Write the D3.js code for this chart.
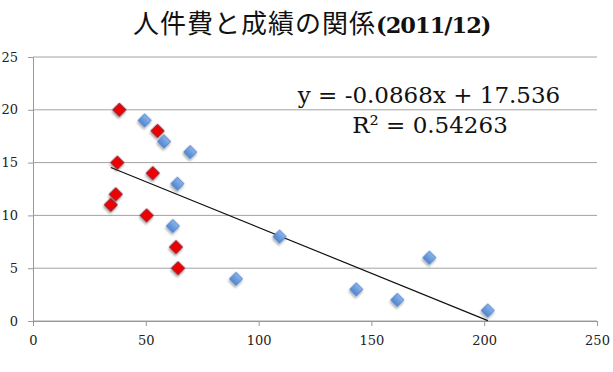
<!DOCTYPE html>
<html>
<head>
<meta charset="utf-8">
<script src="https://cdn.jsdelivr.net/npm/d3@7"></script>
<style>
  body { margin: 0; background: #fff; }
  text { font-family: "DejaVu Serif", serif; }
</style>
</head>
<body>
<div class="graph"></div>
<script>
let w = 613;
let h = 372;

// 人件費 (x) と 成績 (y)
let redX = [38.3, 55.2, 37.4, 53.1, 36.7, 34.5, 50.4, 63.4, 64.3];
let redY = [20, 18, 15, 14, 12, 11, 10, 7, 5];
let blueX = [49.5, 58.1, 69.7, 64, 62, 90, 109.3, 143.3, 161.5, 175.7, 201.6];
let blueY = [19, 17, 16, 13, 9, 4, 8, 3, 2, 6, 1];
let xTicks = [0, 50, 100, 150, 200, 250];
let yTicks = [0, 5, 10, 15, 20, 25];
let slope = -0.0868;
let intercept = 17.536;
let eqLabel = "y = -0.0868x + 17.536";
let r2Label = "R² = 0.54263";
let titleJa = "人件費と成績の関係";
let titleYear = "(2011/12)";

let svg = d3
  .select(".graph")
  .append("svg")
  .attr("width", w)
  .attr("height", h);

let xScale = d3.scaleLinear().domain([0, 250]).range([33, 597]);
let yScale = d3.scaleLinear().domain([0, 25]).range([321, 57]);

let defs = svg.append("defs");
let blueGrad = defs
  .append("linearGradient")
  .attr("id", "blueGrad")
  .attr("x1", "0").attr("y1", "0").attr("x2", "0").attr("y2", "1");
blueGrad.append("stop").attr("offset", "0%").attr("stop-color", "#8cb4ea");
blueGrad.append("stop").attr("offset", "100%").attr("stop-color", "#4f86d2");
let shadow = defs.append("filter").attr("id", "shadow").attr("x", "-50%").attr("y", "-50%").attr("width", "200%").attr("height", "200%");
shadow.append("feDropShadow").attr("dx", 1).attr("dy", 2).attr("stdDeviation", 1.2).attr("flood-color", "#000").attr("flood-opacity", 0.35);

// grid
svg
  .append("g")
  .selectAll("line")
  .data(yTicks)
  .enter()
  .append("line")
  .attr("x1", xScale(0))
  .attr("x2", xScale(250))
  .attr("y1", (d) => yScale(d))
  .attr("y2", (d) => yScale(d))
  .attr("stroke", "#a3a3a3")
  .attr("stroke-width", 1);

let xAxis = d3.axisBottom(xScale).tickValues(xTicks).tickSize(5).tickPadding(10);
let yAxis = d3.axisLeft(yScale).tickValues(yTicks).tickSize(5).tickPadding(10);

let gx = svg
  .append("g")
  .attr("transform", "translate(0," + yScale(0) + ")")
  .call(xAxis);
let gy = svg
  .append("g")
  .attr("transform", "translate(" + xScale(0) + ",0)")
  .call(yAxis);

[gx, gy].forEach(function (g) {
  g.select(".domain").attr("stroke", "#999");
  g.selectAll(".tick line").attr("stroke", "#999");
  g.selectAll(".tick text")
    .attr("fill", "#222")
    .style("font-family", '"DejaVu Serif", serif')
    .style("font-size", "13px");
});

// trend line
let allX = redX.concat(blueX);
let tx = [d3.min(allX), d3.max(allX)];
svg
  .append("line")
  .attr("x1", xScale(tx[0]))
  .attr("y1", yScale(slope * tx[0] + intercept))
  .attr("x2", xScale(tx[1]))
  .attr("y2", yScale(slope * tx[1] + intercept))
  .attr("stroke", "#111")
  .attr("stroke-width", 1.2);

let diamond = d3.symbol().type(d3.symbolSquare).size(88);

svg
  .append("g")
  .selectAll("path")
  .data(blueX)
  .enter()
  .append("path")
  .attr("d", diamond)
  .attr("transform", (d, i) => "translate(" + xScale(d) + "," + yScale(blueY[i]) + ") rotate(45)")
  .attr("fill", "url(#blueGrad)")
  .attr("stroke", "#4d7fc4")
  .attr("stroke-width", 0.8)
  .attr("filter", "url(#shadow)");

svg
  .append("g")
  .selectAll("path")
  .data(redX)
  .enter()
  .append("path")
  .attr("d", diamond)
  .attr("transform", (d, i) => "translate(" + xScale(d) + "," + yScale(redY[i]) + ") rotate(45)")
  .attr("fill", "#ee0000")
  .attr("stroke", "#8a1c2a")
  .attr("stroke-width", 1)
  .attr("filter", "url(#shadow)");

// equation
svg
  .append("text")
  .attr("x", 429)
  .attr("y", 103)
  .attr("text-anchor", "middle")
  .style("font-size", "23px")
  .attr("fill", "#111")
  .text(eqLabel);
svg
  .append("text")
  .attr("x", 430)
  .attr("y", 133)
  .attr("text-anchor", "middle")
  .style("font-size", "23px")
  .attr("fill", "#111")
  .text(r2Label);

// title
let t = svg
  .append("text")
  .attr("x", 133)
  .attr("y", 33)
  .attr("fill", "#111");
t.append("tspan")
  .style("font-family", '"Noto Sans CJK JP", sans-serif')
  .style("font-size", "26px")
  .style("letter-spacing", "1px")
  .text(titleJa);
t.append("tspan")
  .style("font-family", '"DejaVu Serif", serif')
  .style("font-size", "22.5px")
  .style("font-weight", "bold")
  .style("letter-spacing", "-1px")
  .text(titleYear);
</script>
</body>
</html>
